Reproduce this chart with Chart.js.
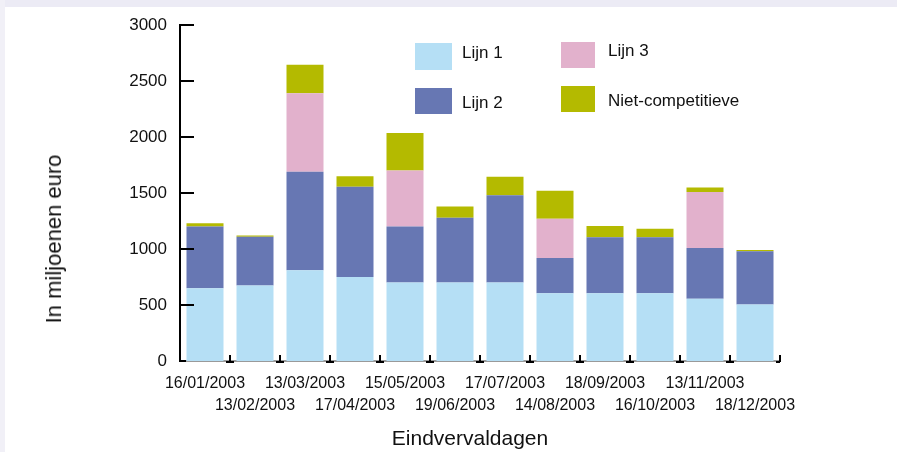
<!DOCTYPE html>
<html>
<head>
<meta charset="utf-8">
<script src="https://cdn.jsdelivr.net/npm/chart.js@4"></script>
<style>
    body { margin: 0; background: #fff; font-family: "Liberation Sans", Arial, sans-serif; color: #111; }
    #wrap { position: relative; width: 897px; height: 452px; overflow: hidden; }
    #topband { position: absolute; left: 0; top: 0; width: 897px; height: 7px; background: #ecebf5; }
    #leftband { position: absolute; left: 0; top: 0; width: 5px; height: 452px; background: #f1f0f7; }
    canvas { position: absolute; left: 0; top: 0; }
    .box { position: absolute; }
    .lbl { position: absolute; font-size: 17px; line-height: 20px; white-space: nowrap; }
    #ytitle { position: absolute; left: 54px; top: 239px; font-size: 22px; white-space: nowrap;
              transform: translate(-50%, -50%) rotate(-90deg); }
    #xtitle { position: absolute; left: 470px; top: 438px; font-size: 21px; white-space: nowrap;
              transform: translate(-50%, -50%); }
</style>
</head>
<body>
<div id="wrap">
    <div id="topband"></div>
    <div id="leftband"></div>
    <canvas id="barChart" width="897" height="452"></canvas>
    <div id="legend"></div>
    <div id="ytitle">In miljoenen euro</div>
    <div id="xtitle">Eindvervaldagen</div>
</div>
<script>
// donnees

const dates = ['16/01/2003', '13/02/2003', '13/03/2003', '17/04/2003', '15/05/2003', '19/06/2003',
    '17/07/2003', '14/08/2003', '18/09/2003', '16/10/2003', '13/11/2003', '18/12/2003'];
const lijn1 = [650, 675, 810, 750, 700, 700, 700, 605, 605, 605, 555, 505];
const lijn2 = [550, 435, 880, 805, 500, 580, 780, 315, 500, 500, 455, 475];
const lijn3 = [0, 0, 700, 0, 500, 0, 0, 350, 0, 0, 500, 0];
const nietCompetitieve = [30, 10, 255, 95, 335, 100, 165, 250, 100, 75, 40, 10];
const yTicks = [0, 500, 1000, 1500, 2000, 2500, 3000];

const colors = {
    lijn1: '#b5dff5',
    lijn2: '#6777b3',
    lijn3: '#e2b1cc',
    niet: '#b4ba00'
};

// legende (HTML)
const legendItems = [
    { text: 'Lijn 1', color: colors.lijn1, box: [415, 43, 37, 27], label: [462, 43] },
    { text: 'Lijn 2', color: colors.lijn2, box: [415, 88, 37, 26], label: [462, 93] },
    { text: 'Lijn 3', color: colors.lijn3, box: [561, 42, 34, 26], label: [608, 41] },
    { text: 'Niet-competitieve', color: colors.niet, box: [561, 86, 34, 26], label: [608, 91] }
];
const legend = document.getElementById('legend');
legendItems.forEach(function (item) {
    const b = document.createElement('div');
    b.className = 'box';
    b.style.cssText = `left:${item.box[0]}px;top:${item.box[1]}px;width:${item.box[2]}px;height:${item.box[3]}px;background:${item.color}`;
    legend.appendChild(b);
    const t = document.createElement('div');
    t.className = 'lbl';
    t.style.left = item.label[0] + 'px';
    t.style.top = item.label[1] + 'px';
    t.textContent = item.text;
    legend.appendChild(t);
});

// petits traits sur les axes
const axisMarks = {
    id: 'axisMarks',
    afterDraw(chart) {
        const ctx = chart.ctx;
        const x = chart.scales.x;
        const y = chart.scales.y;
        const area = chart.chartArea;
        ctx.save();
        ctx.strokeStyle = '#000';
        ctx.lineWidth = 2;
        // graduations y vers l'interieur
        y.ticks.forEach(function (t) {
            const py = y.getPixelForValue(t.value);
            const len = t.value === 0 ? 6 : 14;
            ctx.beginPath();
            ctx.moveTo(area.left, py);
            ctx.lineTo(area.left + len, py);
            ctx.stroke();
        });
        // graduations x entre les categories
        const n = dates.length;
        for (let i = 0; i < n; i++) {
            const bx = i < n - 1 ? (x.getPixelForValue(i) + x.getPixelForValue(i + 1)) / 2 : area.right;
            ctx.beginPath();
            ctx.moveTo(bx, area.bottom + 1);
            ctx.lineTo(bx, area.bottom - 6);
            ctx.moveTo(bx - 4, area.bottom + 1);
            ctx.lineTo(i < n - 1 ? bx + 4 : bx, area.bottom + 1);
            ctx.stroke();
        }
        ctx.restore();
    }
};

const barChart = new Chart(document.getElementById('barChart'), {
    type: 'bar',
    data: {
        labels: dates,
        datasets: [
            { label: 'Lijn 1', data: lijn1, backgroundColor: colors.lijn1 },
            { label: 'Lijn 2', data: lijn2, backgroundColor: colors.lijn2 },
            { label: 'Lijn 3', data: lijn3, backgroundColor: colors.lijn3 },
            { label: 'Niet-competitieve', data: nietCompetitieve, backgroundColor: colors.niet }
        ]
    },
    options: {
        responsive: false,
        animation: false,
        layout: { padding: { top: 25, right: 117, left: 0, bottom: 0 } },
        datasets: {
            bar: { barPercentage: 0.74, categoryPercentage: 1.0, borderWidth: 0 }
        },
        plugins: {
            legend: { display: false },
            tooltip: { enabled: false }
        },
        scales: {
            x: {
                stacked: true,
                afterFit: function (scale) { scale.height = 91; },
                grid: { display: false, drawTicks: false },
                border: { display: true, color: '#9a9a9a', width: 2 },
                ticks: {
                    autoSkip: false,
                    maxRotation: 0,
                    padding: 11,
                    color: '#111',
                    font: { family: '"Liberation Sans", Arial, sans-serif', size: 16, lineHeight: 1.4 },
                    callback: function (value, index) {
                        const label = dates[index];
                        return index % 2 ? ['', label] : label;
                    }
                }
            },
            y: {
                stacked: true,
                min: 0,
                max: 3000,
                afterFit: function (scale) { scale.width = 180; },
                afterBuildTicks: function (scale) {
                    scale.ticks = yTicks.map(v => ({ value: v }));
                },
                grid: { display: false, drawTicks: false },
                border: { display: true, color: '#000', width: 2 },
                ticks: {
                    padding: 13,
                    color: '#111',
                    font: { family: '"Liberation Sans", Arial, sans-serif', size: 17 },
                    callback: function (value) { return String(value); }
                }
            }
        }
    },
    plugins: [axisMarks]
});
</script>
</body>
</html>
